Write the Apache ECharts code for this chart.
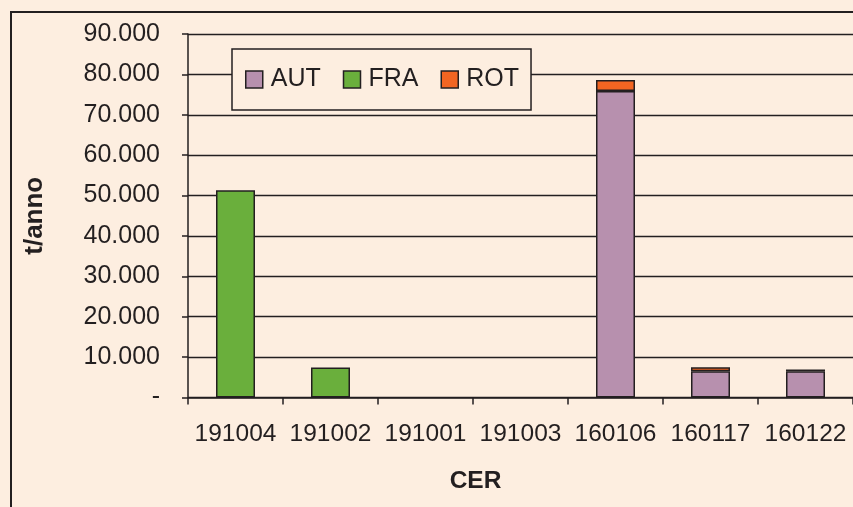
<!DOCTYPE html>
<html>
<head>
<meta charset="utf-8">
<script src="https://cdn.jsdelivr.net/npm/echarts@6/dist/echarts.min.js"></script>
<style>
  html, body { margin: 0; padding: 0; background: #FDEEE0; }
  #chart { width: 853px; height: 507px; }
</style>
</head>
<body>
<div id="chart"></div>
<script>
// dati (t/anno per codice CER)
const categories = ['191004', '191002', '191001', '191003', '160106', '160117', '160122'];
const aut = [null, null, null, null, 75900, 6500, 6500];
const fra = [51300, 7400, null, null, null, null, null];
const rot = [null, null, null, null, 2700, 1000, 450];
const yTicks = [0, 10000, 20000, 30000, 40000, 50000, 60000, 70000, 80000, 90000];

const ink = '#231F20';
const font = 'Liberation Sans, Arial, sans-serif';

const chart = echarts.init(document.getElementById('chart'));

// formato italiano: 90.000, zero come trattino
const fmt = (v) => (v === 0 ? '-' : String(v).replace(/\B(?=(\d{3})+(?!\d))/g, '.'));

const barStyle = (color) => ({ color, borderColor: ink, borderWidth: 1.5 });

chart.setOption({
  backgroundColor: '#FDEEE0',
  animation: false,
  textStyle: { fontFamily: font, color: ink },
  graphic: [
    {
      type: 'rect',
      shape: { x: 11, y: 12, width: 900, height: 600 },
      style: { fill: 'none', stroke: ink, lineWidth: 2 },
      silent: true,
    },
  ],
  grid: { left: 188, top: 34, width: 668.5, height: 363.5 },
  legend: {
    left: 232,
    top: 49,
    padding: [18, 12, 18, 13],
    itemWidth: 17,
    itemHeight: 17,
    itemGap: 22,
    icon: 'rect',
    borderColor: ink,
    borderWidth: 1.5,
    backgroundColor: '#FDEEE0',
    itemStyle: { borderColor: ink, borderWidth: 1.5 },
    textStyle: { fontSize: 25, color: ink, fontFamily: font, padding: [0, 0, 0, 3] },
    data: ['AUT', 'FRA', 'ROT'],
  },
  xAxis: {
    type: 'category',
    data: categories,
    name: 'CER',
    nameLocation: 'middle',
    nameGap: 71,
    nameTextStyle: { fontSize: 24.5, fontWeight: 'bold', color: ink, fontFamily: font, padding: [0, 90, 0, 0] },
    axisLine: { lineStyle: { color: ink, width: 1.5 } },
    axisTick: { show: true, length: 7, lineStyle: { color: ink, width: 1.5 } },
    axisLabel: { interval: 0, fontSize: 24.5, color: ink, margin: 24, fontFamily: font },
  },
  yAxis: {
    type: 'value',
    min: yTicks[0],
    max: yTicks[yTicks.length - 1],
    interval: 10000,
    name: 't/anno',
    nameLocation: 'middle',
    nameRotate: 90,
    nameGap: 140,
    nameTextStyle: { fontSize: 26, fontWeight: 'bold', color: ink, fontFamily: font },
    axisLine: { show: true, lineStyle: { color: ink, width: 1.5 } },
    axisTick: { show: true, length: 6, lineStyle: { color: ink, width: 1.5 } },
    axisLabel: { fontSize: 25, color: ink, margin: 28, fontFamily: font, formatter: fmt },
    splitLine: { lineStyle: { color: ink, width: 1.3 } },
  },
  series: [
    { name: 'AUT', type: 'bar', stack: 'tot', barWidth: 39, data: aut, itemStyle: barStyle('#B790AE') },
    { name: 'FRA', type: 'bar', stack: 'tot', barWidth: 39, data: fra, itemStyle: barStyle('#6AAF3C') },
    { name: 'ROT', type: 'bar', stack: 'tot', barWidth: 39, data: rot, itemStyle: barStyle('#F26522') },
  ],
});
</script>
</body>
</html>
